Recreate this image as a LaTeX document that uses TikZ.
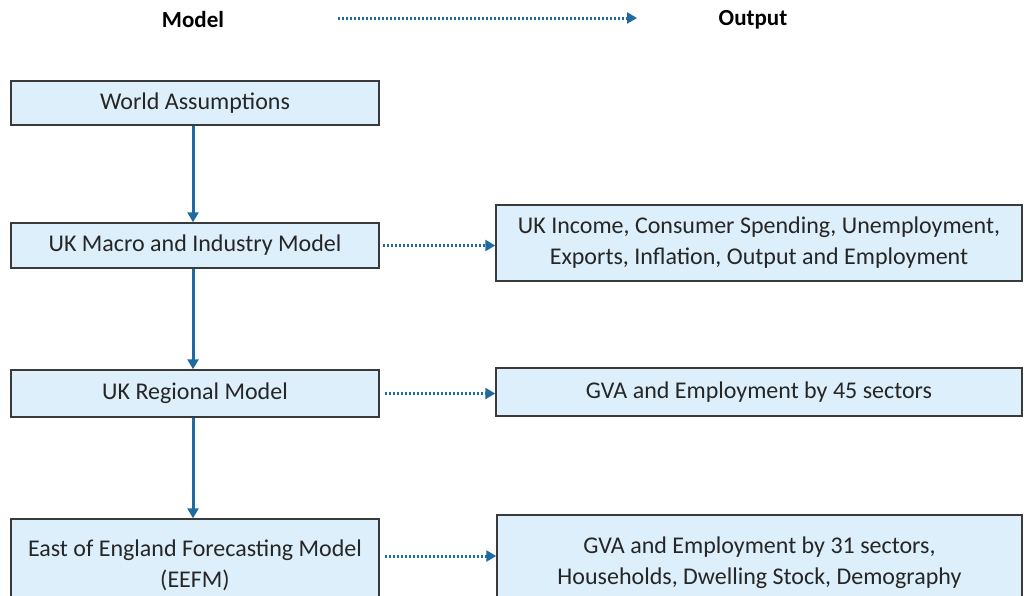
\documentclass[tikz,border=0pt]{standalone}
\usepackage{fontspec}
\setmainfont{Carlito}
\usetikzlibrary{arrows.meta}
\definecolor{boxfill}{HTML}{DCEFFB}
\definecolor{boxline}{HTML}{3A3A3A}
\definecolor{arrowblue}{HTML}{1F6A9E}
\tikzset{
  box/.style={draw=boxline, line width=1.5pt, fill=boxfill, inner sep=0pt, align=center,
    font=\fontsize{24}{31}\selectfont, text=black!85},
  flow/.style={draw=arrowblue, line width=3pt, -{Triangle[length=10pt,width=11pt]}},
  outflow/.style={draw=arrowblue, line width=3pt, dash pattern=on 1.8pt off 2.2pt,
    -{Triangle[length=10pt,width=11pt]}},
  head/.style={font=\fontsize{23}{27}\selectfont\bfseries, text=black}
}
\begin{document}
\begin{tikzpicture}[x=1pt,y=-1pt]
\useasboundingbox (0,0) rectangle (1024,595);
% header
\node[head] (hmodel) at (193,20) {Model};
\node[head] (hout) at (753,20) {Output};
\coordinate (ha) at (338,18);
\coordinate (hb) at (637,18);
\draw[outflow] (ha) -- (hb);
% left column
\node[box, minimum width=368pt, minimum height=44pt] (wa) at (195,103) {World Assumptions};
\node[box, minimum width=368pt, minimum height=45pt] (macro) at (195,245.5) {UK Macro and Industry Model};
\node[box, minimum width=368pt, minimum height=47pt] (reg) at (195,393.5) {UK Regional Model};
\node[box, minimum width=368pt, minimum height=92pt] (eefm) at (195,565) {East of England Forecasting Model\\(EEFM)};
% right column
\node[box, minimum width=526pt, minimum height=76pt] (o1) at (759,243) {UK Income, Consumer Spending, Unemployment,\\Exports, Inflation, Output and Employment};
\node[box, minimum width=526pt, minimum height=48pt] (o2) at (759,392) {GVA and Employment by 45 sectors};
\node[box, minimum width=525pt, minimum height=95pt] (o3) at (759.5,562.5) {GVA and Employment by 31 sectors,\\Households, Dwelling Stock, Demography};
% vertical flow
\draw[flow] (wa.south -| 193,0) -- (macro.north -| 193,0);
\draw[flow] (macro.south -| 193,0) -- (reg.north -| 193,0);
\draw[flow] (reg.south -| 193,0) -- (eefm.north -| 193,0);
% outputs
\draw[outflow] ([xshift=3pt]macro.east) -- (o1.west |- macro.east);
\draw[outflow] ([xshift=5pt]reg.east) -- (o2.west |- reg.east);
\draw[outflow] ([xshift=5pt]eefm.east |- 0,556) -- (o3.west |- 0,556);
\end{tikzpicture}
\end{document}
